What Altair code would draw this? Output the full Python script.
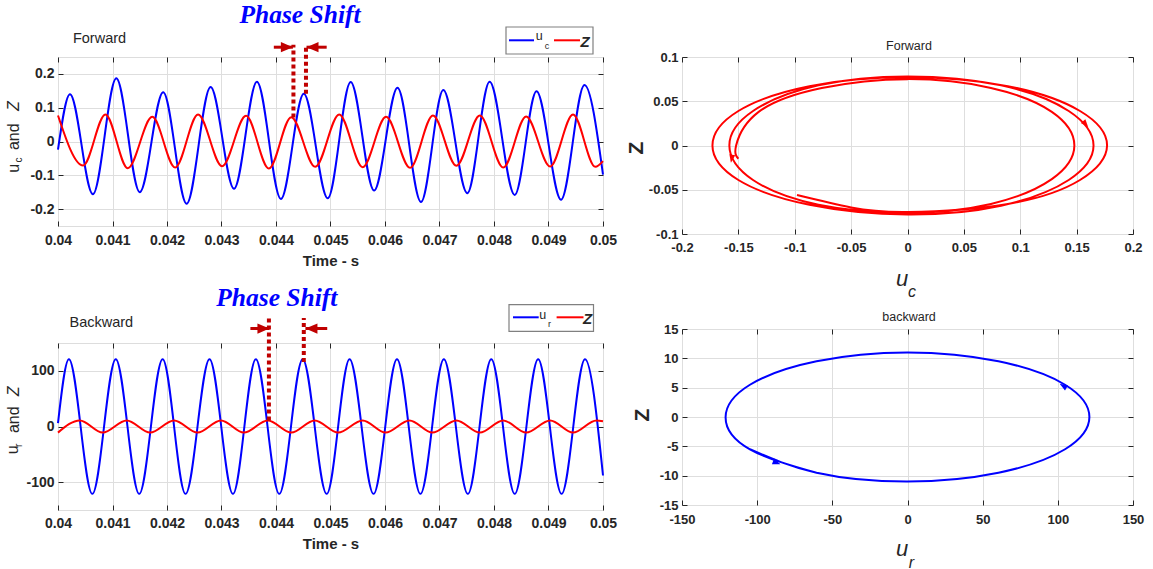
import altair as alt
import pandas as pd

# ---------------- Forward: time series (extrema) ----------------
T_FWD_UC = [0.04000, 0.04022, 0.04064, 0.04107, 0.04150, 0.04193, 0.04236, 0.04280, 0.04323,
            0.04365, 0.04409, 0.04451, 0.04495, 0.04537, 0.04580, 0.04623, 0.04666, 0.04707,
            0.04751, 0.04792, 0.04838, 0.04878, 0.04923, 0.04966, 0.05000]
UC_FWD = [-0.024, 0.140, -0.156, 0.187, -0.150, 0.146, -0.184, 0.161, -0.140, 0.177, -0.170,
          0.141, -0.168, 0.176, -0.145, 0.159, -0.179, 0.152, -0.153, 0.177, -0.158, 0.149,
          -0.172, 0.167, -0.098]
T_FWD_Z = [0.04000, 0.04046, 0.04087, 0.04128, 0.04173, 0.04215, 0.04257, 0.04301, 0.04345,
           0.04387, 0.04428, 0.04472, 0.04516, 0.04559, 0.04602, 0.04646, 0.04688, 0.04731,
           0.04774, 0.04817, 0.04859, 0.04903, 0.04945, 0.04986, 0.05000]
Z_FWD = [0.077, -0.071, 0.080, -0.079, 0.073, -0.077, 0.080, -0.073, 0.076, -0.080, 0.072,
         -0.075, 0.080, -0.076, 0.073, -0.078, 0.077, -0.072, 0.077, -0.077, 0.074, -0.074,
         0.080, -0.075, -0.058]

# ---------------- Backward: time series ----------------
T_BWD_UR = [0.04000, 0.04020, 0.04063, 0.04106, 0.04149, 0.04192, 0.04234, 0.04278, 0.04321,
            0.04363, 0.04406, 0.04449, 0.04493, 0.04535, 0.04579, 0.04622, 0.04665, 0.04708,
            0.04752, 0.04795, 0.04838, 0.04881, 0.04924, 0.04967, 0.05000]
UR_BWD = [6, 121, -121, 121, -121, 121, -121, 121, -121, 121, -121, 121, -121, 121, -121,
          121, -121, 121, -121, 121, -121, 121, -121, 121, -88]
T_BWD_Z = [0.04000, 0.04040, 0.04082, 0.04126, 0.04169, 0.04213, 0.04256, 0.04299, 0.04341,
           0.04385, 0.04428, 0.04471, 0.04514, 0.04559, 0.04601, 0.04645, 0.04687, 0.04731,
           0.04774, 0.04817, 0.04859, 0.04903, 0.04945, 0.04988, 0.05000]
Z_BWD = [-11, 11, -11, 11, -11, 11, -11, 11, -11, 11, -11, 11, -11, 11, -11, 11, -11, 11,
         -11, 11, -11, 11, -11, 11, 9.5]

# ---------------- Phase-shift markers (data coordinates) ----------------
SHIFT_T_FWD = [0.04432, 0.04455]
SHIFT_LO_FWD = [0.071, 0.141]
SHIFT_HI_FWD = [0.286, 0.286]
ARROW_TAIL_FWD = [0.04396, 0.04493]
ARROW_TIP_FWD = [0.04431, 0.04456]
ARROW_Y_FWD = [0.279, 0.279]

SHIFT_T_BWD = [0.04387, 0.04451]
SHIFT_LO_BWD = [11, 116]
SHIFT_HI_BWD = [195, 195]
ARROW_TAIL_BWD = [0.04353, 0.04494]
ARROW_TIP_BWD = [0.04388, 0.04454]
ARROW_Y_BWD = [176, 176]
ARROW_ANG = [0, 180]

# ---------------- Phase portraits ----------------
PP_FWD_U = [-0.150, -0.152, -0.132, -0.076, 0.000, 0.074, 0.128, 0.148, 0.128, 0.074, 0.000, -0.079, -0.137,
            -0.158, -0.137, -0.079, 0.000, 0.083, 0.143, 0.165, 0.143, 0.083, 0.000, -0.087, -0.150,
            -0.173, -0.150, -0.087, 0.000, 0.089, 0.153, 0.177, 0.153, 0.089, 0.000, -0.050, -0.098]
PP_FWD_Z = [-0.015, 0.000, 0.038, 0.065, 0.075, 0.065, 0.038, 0.000, -0.038, -0.066, -0.076, -0.067, -0.039,
            0.000, 0.039, 0.068, 0.078, 0.068, 0.039, 0.000, -0.039, -0.068, -0.078, -0.067, -0.039,
            0.000, 0.039, 0.067, 0.077, 0.067, 0.039, 0.000, -0.039, -0.066, -0.075, -0.070, -0.056]
PP_BWD_U = [-104.8, -60.5, 0.0, 60.5, 104.8, 121.0, 104.8, 60.5, 0.0, -60.5, -104.8, -121.0, -104.8, -60.5]
PP_BWD_Z = [-5.5, -9.5, -11.0, -9.5, -5.5, 0.0, 5.5, 9.5, 11.0, 9.5, 5.5, 0.0, -5.5, -9.5]

ARR_FWD_U = [0.158, -0.156]
ARR_FWD_Z = [0.024, -0.015]
ARR_FWD_ANG = [50, 100]
ARR_BWD_U = [103.5, -87.0]
ARR_BWD_Z = [5.3, -7.8]
ARR_BWD_ANG = [211, 21]

# ---------------- Tick values ----------------
T_TICKS = [0.04, 0.041, 0.042, 0.043, 0.044, 0.045, 0.046, 0.047, 0.048, 0.049, 0.05]
YF_TICKS = [-0.2, -0.1, 0, 0.1, 0.2]
YB_TICKS = [-100, 0, 100]
PF_X_TICKS = [-0.2, -0.15, -0.1, -0.05, 0, 0.05, 0.1, 0.15, 0.2]
PF_Y_TICKS = [-0.1, -0.05, 0, 0.05, 0.1]
PB_X_TICKS = [-150, -100, -50, 0, 50, 100, 150]
PB_Y_TICKS = [-15, -10, -5, 0, 5, 10, 15]

# ---------------- Styles ----------------
SANS = "Liberation Sans, Arial, sans-serif"
NARROW = "Liberation Sans Narrow, Liberation Sans, Arial, sans-serif"
SERIF = "Liberation Serif, Times New Roman, serif"
INK = "#262626"
GRID = "#dedede"
BLUE = "#0000ff"
RED = "#ff0000"
DARK_RED = "#c00000"
LABEL_EXPR = "replace(format(datum.value, '~g'), '\u2212', '-')"
HEAD_PATH = "M0,0 L-2,-0.85 L-2,0.85 Z"
TRI_PATH = "M1,0 L-1,-0.75 L-1,0.75 Z"

ONE = pd.DataFrame({"k": [0]})


def txt(s, x, y, size, weight="normal", style="normal", color=INK, font=SANS, angle=0):
    props = dict(text=s, font=font, fontSize=size, fontWeight=weight, fontStyle=style,
                 color=color, align="center", baseline="middle")
    if angle:
        props["angle"] = angle
    return alt.Chart(ONE).mark_text(**props).encode(x=alt.value(x), y=alt.value(y))


def rule_px(x1, x2, y1, y2, color, width, opacity=1.0):
    return alt.Chart(ONE).mark_rule(color=color, strokeWidth=width, opacity=opacity).encode(
        x=alt.value(x1), x2=alt.value(x2), y=alt.value(y1), y2=alt.value(y2))


def box_px(x1, x2, y1, y2):
    return alt.Chart(ONE).mark_rect(fill="white", stroke="#808080", strokeWidth=1.2).encode(
        x=alt.value(x1), x2=alt.value(x2), y=alt.value(y1), y2=alt.value(y2))


def make_axis(values, size, pad, orient, title=None, title_pad=0):
    kw = dict(values=values, orient=orient, labelExpr=LABEL_EXPR, grid=True, gridColor=GRID,
              gridWidth=1, ticks=False, domain=False, labelFont=NARROW, labelFontSize=size,
              labelFontWeight="bold", labelColor=INK, labelPadding=pad,
              labelFlush=False, labelOverlap=False)
    if title is None:
        kw["title"] = None
    else:
        kw.update(title=title, titleFont=NARROW, titleFontSize=15, titleFontWeight="bold",
                  titleColor=INK, titlePadding=title_pad)
    return alt.Axis(**kw)


def tick_axis(values, orient):
    # MATLAB-style inward tick marks on the plot frame
    return alt.Axis(values=values, orient=orient, offset=-5, ticks=True, tickSize=5,
                    tickColor=INK, tickWidth=1, labels=False, domain=False, grid=False,
                    title=None)


def tick_layers(df, xf, yf, sx, sy, xticks, yticks):
    a = alt.Chart(df).mark_point(opacity=0, size=1).encode(
        x=alt.X(xf, type="quantitative", scale=sx, axis=tick_axis(xticks, "bottom")),
        y=alt.Y(yf, type="quantitative", scale=sy, axis=tick_axis(yticks, "left")))
    b = alt.Chart(df).mark_point(opacity=0, size=1).encode(
        x=alt.X(xf, type="quantitative", scale=sx, axis=tick_axis(xticks, "top")),
        y=alt.Y(yf, type="quantitative", scale=sy, axis=tick_axis(yticks, "right")))
    return [a, b]


SX_T = alt.Scale(domain=[0.04, 0.05], nice=False, zero=False)


def time_layers(t_u, v_u, t_z, v_z, sh_t, sh_lo, sh_hi, a_tail, a_tip, a_y, ydom, yticks, xpad):
    df_u = pd.DataFrame({"t": t_u, "v": v_u})
    df_z = pd.DataFrame({"t": t_z, "v": v_z})
    df_s = pd.DataFrame({"t": sh_t, "lo": sh_lo, "hi": sh_hi})
    df_a = pd.DataFrame({"tail": a_tail, "tip": a_tip, "y": a_y, "ang": ARROW_ANG})
    sy = alt.Scale(domain=ydom, nice=False, zero=False)
    ax_x = make_axis(T_TICKS, 14, xpad, "bottom", "Time - s", 6)
    ax_y = make_axis(yticks, 14, 4, "left")

    def X(f, ax=None):
        return alt.X(f, type="quantitative", scale=SX_T, axis=ax)

    def Y(f, ax=None):
        return alt.Y(f, type="quantitative", scale=sy, axis=ax)

    u_line = alt.Chart(df_u).mark_line(interpolate="monotone", color=BLUE, strokeWidth=2).encode(
        x=X("t", ax_x), y=Y("v", ax_y))
    z_line = alt.Chart(df_z).mark_line(interpolate="monotone", color=RED, strokeWidth=2).encode(
        x=X("t"), y=Y("v"))
    dots = alt.Chart(df_s).mark_rule(color=DARK_RED, strokeWidth=4, strokeDash=[4, 3]).encode(
        x=X("t"), y=Y("lo"), y2="hi")
    shafts = alt.Chart(df_a).mark_rule(color=DARK_RED, strokeWidth=3).encode(
        x=X("tail"), x2="tip", y=Y("y"))
    heads = alt.Chart(df_a).mark_point(shape=HEAD_PATH, filled=True, size=144, color=DARK_RED,
                                       opacity=1).encode(
        x=X("tip"), y=Y("y"), angle=alt.Angle("ang:Q", scale=None))
    return [u_line, z_line, dots, shafts, heads] + tick_layers(df_u, "t", "v", SX_T, sy,
                                                               T_TICKS, yticks)


def portrait_layers(pu, pz, au, az, aang, color, xdom, xticks, ydom, yticks, xpad):
    df_p = pd.DataFrame({"u": pu, "z": pz, "i": list(range(len(pu)))})
    df_a = pd.DataFrame({"u": au, "z": az, "ang": aang})
    sx = alt.Scale(domain=xdom, nice=False, zero=False)
    sy = alt.Scale(domain=ydom, nice=False, zero=False)
    ax_x = make_axis(xticks, 13, xpad, "bottom")
    ax_y = make_axis(yticks, 13, 4, "left")
    loop = alt.Chart(df_p).mark_line(interpolate="natural", color=color, strokeWidth=2).encode(
        x=alt.X("u:Q", scale=sx, axis=ax_x), y=alt.Y("z:Q", scale=sy, axis=ax_y), order="i:Q")
    heads = alt.Chart(df_a).mark_point(shape=TRI_PATH, filled=True, size=64, color=color,
                                       opacity=1).encode(
        x=alt.X("u:Q", scale=sx, axis=None), y=alt.Y("z:Q", scale=sy, axis=None),
        angle=alt.Angle("ang:Q", scale=None))
    return [loop, heads] + tick_layers(df_p, "u", "z", sx, sy, xticks, yticks)


# ---------------- Top-left: Forward time series ----------------
tl = alt.layer(
    *time_layers(T_FWD_UC, UC_FWD, T_FWD_Z, Z_FWD, SHIFT_T_FWD, SHIFT_LO_FWD, SHIFT_HI_FWD,
                 ARROW_TAIL_FWD, ARROW_TIP_FWD, ARROW_Y_FWD, [-0.25, 0.25], YF_TICKS, 7),
    txt("Forward", 41.5, -18.3, 14.5),
    txt("Phase Shift", 242, -42.5, 25.5, "bold", "italic", BLUE, SERIF),
    box_px(448, 535, -30, -3),
    rule_px(451, 476, -16.7, -16.7, BLUE, 2),
    txt("u", 481.3, -20.7, 12.5),
    txt("c", 489, -10.7, 9),
    rule_px(496, 522, -16.7, -16.7, RED, 2),
    txt("Z", 527, -14.7, 15, "bold", "italic"),
    txt("u", -43.7, 111.3, 16, angle=270),
    txt("c", -39.2, 103, 10, angle=270),
    txt("and", -43.7, 79.7, 16, angle=270),
    txt("Z", -43.7, 49, 16, style="italic", angle=270),
    rule_px(-57, -56, -54, -54, "white", 1, opacity=0),
    rule_px(562, 563, 0, 0, "white", 1, opacity=0),
).properties(width=545, height=169)

# ---------------- Bottom-left: Backward time series ----------------
bl = alt.layer(
    *time_layers(T_BWD_UR, UR_BWD, T_BWD_Z, Z_BWD, SHIFT_T_BWD, SHIFT_LO_BWD, SHIFT_HI_BWD,
                 ARROW_TAIL_BWD, ARROW_TIP_BWD, ARROW_Y_BWD, [-150, 150], YB_TICKS, 6),
    txt("Backward", 43.3, -20, 14.5),
    txt("Phase Shift", 218.8, -45.5, 25.5, "bold", "italic", BLUE, SERIF),
    box_px(451, 535.5, -38.3, -11.7),
    rule_px(455, 480.7, -25.7, -25.7, BLUE, 2),
    txt("u", 484.7, -28.5, 12.5),
    txt("r", 491.4, -19.3, 9),
    rule_px(498.6, 525.5, -25.7, -25.7, RED, 2),
    txt("Z", 529.5, -23.8, 15, "bold", "italic"),
    txt("u", -45.3, 106.7, 16, angle=270),
    txt("r", -38.7, 102.3, 10, angle=270),
    txt("and", -44.3, 76.7, 16, angle=270),
    txt("Z", -43.7, 48.3, 16, style="italic", angle=270),
).properties(width=545, height=167)

# ---------------- Top-right: Forward phase portrait ----------------
tr = alt.layer(
    *portrait_layers(PP_FWD_U, PP_FWD_Z, ARR_FWD_U, ARR_FWD_Z, ARR_FWD_ANG, RED,
                     [-0.2, 0.2], PF_X_TICKS, [-0.1, 0.1], PF_Y_TICKS, 7),
    txt("Forward", 227, -11, 12.5),
    txt("Z", -45, 91, 21, "bold", angle=270),
    txt("u", 220, 221.5, 22, style="italic"),
    txt("c", 230, 235, 16, style="italic"),
    rule_px(-59, -58, -56, -56, "white", 1, opacity=0),
).properties(width=451, height=177)

# ---------------- Bottom-right: Backward phase portrait ----------------
br = alt.layer(
    *portrait_layers(PP_BWD_U, PP_BWD_Z, ARR_BWD_U, ARR_BWD_Z, ARR_BWD_ANG, BLUE,
                     [-150, 150], PB_X_TICKS, [-15, 15], PB_Y_TICKS, 8),
    txt("backward", 227, -12, 12.5),
    txt("Z", -39, 86, 21, "bold", angle=270),
    txt("u", 220, 220, 22, style="italic"),
    txt("r", 229.5, 234, 16, style="italic"),
).properties(width=451, height=176)

left = alt.vconcat(tl, bl, spacing=117, bounds="flush")
right = alt.vconcat(tr, br, spacing=95, bounds="flush")

chart = alt.hconcat(left, right, spacing=0).properties(
    padding={"left": 0, "top": 0, "right": 0, "bottom": 0}
).configure_view(stroke=INK, strokeWidth=1.2).configure(background="white")

chart.save("out.html", embed_options={"renderer": "svg", "actions": False})
